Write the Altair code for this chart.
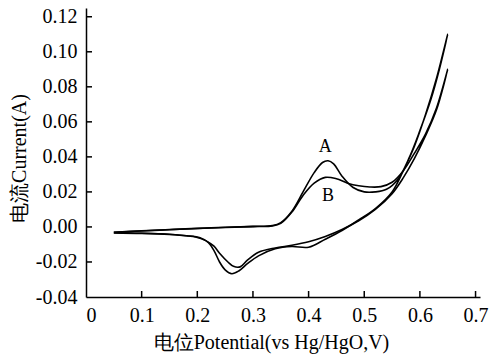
import altair as alt
import pandas as pd

# Curve A (forward sweep then reverse sweep)
a_x = [0.05, 0.10, 0.15, 0.20, 0.25, 0.30, 0.335, 0.35, 0.37, 0.39, 0.41, 0.425, 0.435, 0.445, 0.46, 0.48, 0.50, 0.52, 0.54, 0.56, 0.58, 0.60, 0.62, 0.635, 0.65,
       0.63, 0.61, 0.59, 0.57, 0.55, 0.52, 0.49, 0.46, 0.43, 0.40, 0.37, 0.34, 0.31, 0.29, 0.275, 0.262, 0.25, 0.24, 0.23, 0.22, 0.205, 0.18, 0.15, 0.10, 0.05]
a_y = [-0.0030, -0.0022, -0.0015, -0.0008, -0.0002, 0.0003, 0.0008, 0.0025, 0.0090, 0.0200, 0.0310, 0.0368, 0.0378, 0.0360, 0.0290, 0.0225, 0.0200, 0.0200, 0.0215, 0.0270, 0.0390, 0.0550, 0.0730, 0.0900, 0.1100,
       0.0850, 0.0640, 0.0460, 0.0320, 0.0200, 0.0105, 0.0040, -0.0020, -0.0070, -0.0116, -0.0112, -0.0125, -0.0165, -0.0210, -0.0250, -0.0267, -0.0245, -0.0200, -0.0135, -0.0090, -0.0062, -0.0050, -0.0042, -0.0036, -0.0033]

# Curve B (forward sweep then reverse sweep)
b_x = [0.05, 0.10, 0.15, 0.20, 0.25, 0.30, 0.335, 0.35, 0.37, 0.39, 0.41, 0.43, 0.45, 0.47, 0.49, 0.51, 0.53, 0.55, 0.57, 0.59, 0.61, 0.63, 0.65,
       0.63, 0.61, 0.59, 0.57, 0.55, 0.52, 0.49, 0.46, 0.43, 0.40, 0.37, 0.34, 0.31, 0.29, 0.277, 0.265, 0.255, 0.24, 0.23, 0.215, 0.20, 0.18, 0.15, 0.10, 0.05]
b_y = [-0.0031, -0.0023, -0.0016, -0.0009, -0.0003, 0.0002, 0.0005, 0.0020, 0.0085, 0.0180, 0.0250, 0.0283, 0.0275, 0.0250, 0.0235, 0.0228, 0.0230, 0.0255, 0.0320, 0.0420, 0.0530, 0.0680, 0.0900,
       0.0670, 0.0520, 0.0390, 0.0280, 0.0190, 0.0100, 0.0035, -0.0015, -0.0055, -0.0085, -0.0105, -0.0120, -0.0145, -0.0190, -0.0228, -0.0225, -0.0200, -0.0150, -0.0110, -0.0078, -0.0060, -0.0050, -0.0043, -0.0037, -0.0034]

x_ticks = [0.0, 0.1, 0.2, 0.3, 0.4, 0.5, 0.6, 0.7]
y_ticks = [-0.04, -0.02, 0.00, 0.02, 0.04, 0.06, 0.08, 0.10, 0.12]

label_text = ["A", "B"]
label_x = [0.430, 0.435]
label_y = [0.0455, 0.0175]

rows = []
for name, xs, ys in (("A", a_x, a_y), ("B", b_x, b_y)):
    for i, (xv, yv) in enumerate(zip(xs, ys)):
        rows.append({"curve": name, "x": xv, "y": yv, "i": i})
df = pd.DataFrame(rows)

W, H = 394, 289
xs = alt.Scale(domain=[0, 0.708], nice=False, zero=False)
ys = alt.Scale(domain=[-0.04, 0.125], nice=False, zero=False)

xaxis = alt.Axis(values=x_ticks, ticks=False, grid=False, labelOverlap=False,
                 title="电位Potential(vs Hg/HgO,V)", titleX=185, titlePadding=7,
                 labelExpr="datum.value == 0 ? '0' : format(datum.value, '.1f')")
yaxis = alt.Axis(values=y_ticks, ticks=False, grid=False, labelOverlap=False,
                 labelExpr="(datum.value < -0.001 ? '-' : '') + format(abs(datum.value), '.2f')",
                 title="电流Current(A)", titlePadding=6, titleY=150)

lines = alt.Chart(df).mark_line(color="black", strokeWidth=1.6, interpolate="catmull-rom").encode(
    x=alt.X("x:Q", scale=xs, axis=xaxis),
    y=alt.Y("y:Q", scale=ys, axis=yaxis),
    detail="curve:N",
    order="i:Q",
)

xt = alt.Chart(pd.DataFrame({"t": x_ticks[1:]})).mark_rule(color="black", strokeWidth=1.5).encode(
    x=alt.X("t:Q", scale=xs, axis=xaxis), y=alt.value(H), y2=alt.value(H - 6))
yt = alt.Chart(pd.DataFrame({"t": y_ticks[1:]})).mark_rule(color="black", strokeWidth=1.5).encode(
    y=alt.Y("t:Q", scale=ys, axis=yaxis), x=alt.value(0), x2=alt.value(6))

labels = alt.Chart(pd.DataFrame({"x": label_x, "y": label_y, "t": label_text})).mark_text(
    font="Liberation Serif", fontSize=18, color="black").encode(
    x=alt.X("x:Q", scale=xs, axis=xaxis), y=alt.Y("y:Q", scale=ys, axis=yaxis), text="t:N")

chart = alt.layer(lines, xt, yt, labels).properties(
    width=W, height=H,
    autosize=alt.AutoSizeParams(type="none"),
    padding={"left": 86, "top": 8, "right": 10, "bottom": 58},
).configure_view(stroke=None).configure_axis(
    domainColor="black", domainWidth=1.5,
    labelFont="Liberation Serif", labelFontSize=20, labelColor="black", labelPadding=8,
    titleFont="Liberation Serif", titleFontSize=20, titleColor="black", titleFontWeight="normal",
).configure_axisY(labelPadding=9)

chart.save("out.html", embed_options={"renderer": "svg", "actions": False})
